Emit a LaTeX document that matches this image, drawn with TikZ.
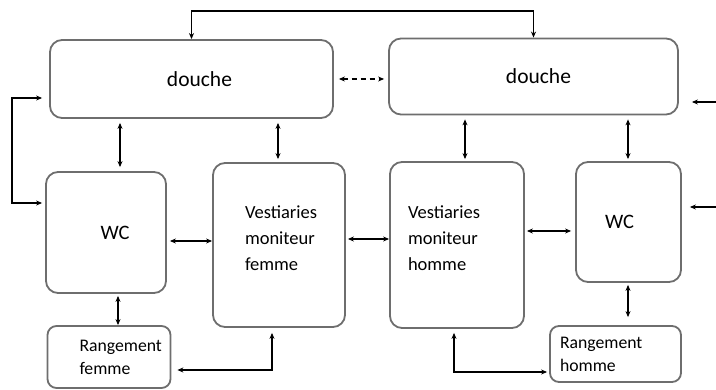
\documentclass[tikz,border=0pt]{standalone}
\usepackage{fontspec}
\setmainfont{Carlito}
\usetikzlibrary{arrows.meta,positioning,calc}
\definecolor{boxgray}{RGB}{110,110,110}

\begin{document}
\begin{tikzpicture}[x=1pt, y=-1pt,
    room/.style={draw=boxgray, line width=1.8pt, rounded corners=12pt, fill=white,
                 inner sep=0pt},
    arr/.style={{Stealth[length=6pt,width=5pt]}-{Stealth[length=6pt,width=5pt]}, line width=1.2pt},
    arrin/.style={-{Stealth[length=6pt,width=5pt]}, line width=1.2pt}
]
\useasboundingbox (0,0) rectangle (716,390);

% Douches
\node[room, minimum width=283pt, minimum height=78pt, font=\fontsize{21.5}{24}\selectfont]
    (doucheF) at (191.5,79) {\hspace*{16pt}douche};
\node[room, minimum width=289pt, minimum height=76pt, font=\fontsize{21.5}{24}\selectfont]
    (doucheH) at (533.5,76.5) {\hspace*{10pt}douche};

% WC
\node[room, minimum width=120pt, minimum height=121pt, font=\fontsize{20.5}{24}\selectfont]
    (wcF) at (106,232.5) {\hspace*{18pt}WC};
\node[room, minimum width=105pt, minimum height=120pt, font=\fontsize{20.5}{24}\selectfont]
    (wcH) at (628.5,222) {WC\hspace*{18pt}};

% Vestiaires
\node[room, minimum height=164pt, text width=68pt, inner xsep=32pt, align=left,
      font=\fontsize{18.5}{26}\selectfont]
    (vestF) at (279,245) {Vestiaries\\moniteur\\femme\\[-12pt]\mbox{}};
\node[room, minimum height=166pt, text width=98pt, inner xsep=18pt, align=left,
      font=\fontsize{18.5}{26}\selectfont]
    (vestH) at (457,245) {Vestiaries\\moniteur\\homme\\[-12pt]\mbox{}};

% Rangements
\node[room, rounded corners=9pt, minimum height=62pt, text width=59pt, inner xsep=32pt,
      align=left, font=\fontsize{17.7}{23}\selectfont]
    (rangF) at (109,357) {Rangement\\femme};
\node[room, rounded corners=9pt, minimum height=56pt, text width=111pt, inner xsep=10pt,
      align=left, font=\fontsize{17.7}{23}\selectfont]
    (rangH) at (615.5,354) {Rangement\\homme};

% Liaisons
\coordinate (hautBar) at (360,11);
\draw[arr] (doucheF.north) |- (hautBar) -| (doucheH.north);
\draw[arr, dashed, dash pattern=on 5pt off 4pt, shorten <=5pt, shorten >=4pt]
    (doucheF.east) -- (doucheF.east -| doucheH.west);

\coordinate (boucleA) at (12,98);
\coordinate (boucleB) at (12,203);
\draw[arr, shorten <=7pt, shorten >=3pt]
    (doucheF.west |- boucleA) -- (boucleA) -- (boucleB) -- (wcF.west |- boucleB);

\coordinate (entreeA) at (716,102);
\coordinate (entreeB) at (716,207);
\draw[arrin, shorten >=13pt] (entreeA) -- (doucheH.east |- entreeA);
\draw[arrin, shorten >=8pt] (entreeB) -- (wcH.east |- entreeB);

% colonnes des liaisons verticales
\coordinate (colWcF) at (120,0);
\coordinate (colVF) at (278,0);
\coordinate (colVH) at (465,0);
\coordinate (colWcH) at (628,0);
\coordinate (colRF) at (118,0);
\draw[arr, shorten <=4pt, shorten >=4pt] (doucheF.south -| colWcF) -- (wcF.north -| colWcF);
\draw[arr, shorten <=4pt, shorten >=3pt] (doucheF.south -| colVF) -- (vestF.north -| colVF);
\draw[arr, shorten <=4pt, shorten >=2pt] (doucheH.south -| colVH) -- (vestH.north -| colVH);
\draw[arr, shorten <=4pt, shorten >=2pt] (doucheH.south -| colWcH) -- (wcH.north -| colWcH);
\draw[arr, shorten <=2pt] (wcF.south -| colRF) -- (rangF.north -| colRF);
\draw[arr, shorten <=2pt, shorten >=8pt] (wcH.south -| colWcH) -- (rangH.north -| colWcH);

\coordinate (niveauF) at (0,241);
\coordinate (niveauM) at (0,239);
\coordinate (niveauH) at (0,231);
\draw[arr, shorten <=3pt] (wcF.east |- niveauF) -- (vestF.west |- niveauF);
\draw[arr, shorten <=2pt] (vestF.east |- niveauM) -- (vestH.west |- niveauM);
\draw[arr, shorten <=2pt, shorten >=4pt] (vestH.east |- niveauH) -- (wcH.west |- niveauH);

\coordinate (coinF) at (272,370);
\coordinate (coinH) at (454,372);
\draw[arr, shorten <=5pt, shorten >=6pt] (vestF.south -| coinF) -- (coinF) -- (rangF.east |- coinF);
\draw[arr, shorten <=4pt, shorten >=2pt] (vestH.south -| coinH) -- (coinH) -- (rangH.west |- coinH);

\end{tikzpicture}
\end{document}
